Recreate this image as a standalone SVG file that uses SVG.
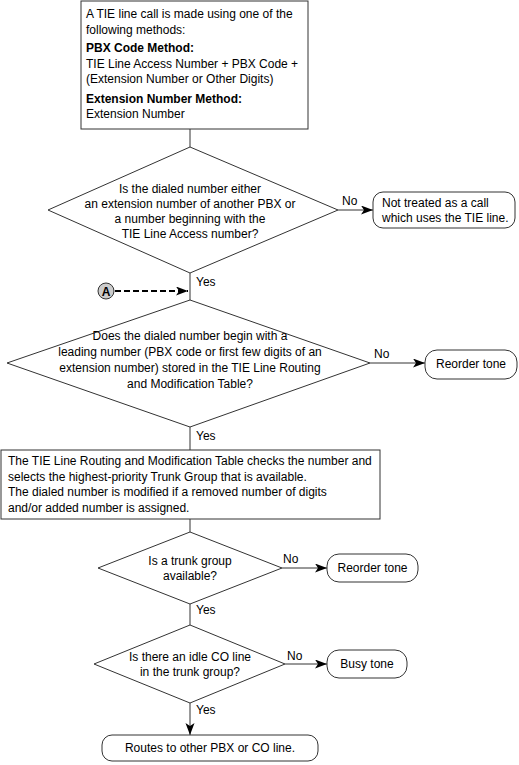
<svg xmlns="http://www.w3.org/2000/svg" width="519" height="765" viewBox="0 0 519 765">
<style>
text{font-family:"Liberation Sans",Arial,sans-serif;font-size:12px;fill:#000}
.c{text-anchor:middle}
.b{font-weight:bold}
.s{fill:#fff;stroke:#333;stroke-width:1}
.l{stroke:#333;stroke-width:1;fill:none}
</style>
<defs>
<marker id="ah" markerUnits="userSpaceOnUse" markerWidth="14" markerHeight="10" refX="12" refY="4.5" orient="auto">
<path d="M0,0 L12,4.5 L0,9 L3,4.5 Z" fill="#000"/>
</marker>
</defs>
<g id="connectors">
<line class="l" x1="190" y1="129" x2="190" y2="147"/>
<line class="l" x1="338" y1="210" x2="373" y2="210" marker-end="url(#ah)"/>
<line class="l" x1="190" y1="273" x2="190" y2="300"/>
<line x1="115" y1="291" x2="188" y2="291" stroke="#000" stroke-width="2" stroke-dasharray="6,3" marker-end="url(#ah)"/>
<line class="l" x1="370" y1="363" x2="425" y2="363" marker-end="url(#ah)"/>
<line class="l" x1="190" y1="427" x2="190" y2="450"/>
<line class="l" x1="190" y1="519" x2="190" y2="532"/>
<line class="l" x1="282" y1="568" x2="327" y2="568" marker-end="url(#ah)"/>
<line class="l" x1="190" y1="604" x2="190" y2="625"/>
<line class="l" x1="285" y1="664" x2="327" y2="664" marker-end="url(#ah)"/>
<line class="l" x1="190" y1="703" x2="190" y2="735" marker-end="url(#ah)"/>
<text x="342" y="205">No</text>
<text x="196" y="286">Yes</text>
<text x="374" y="358">No</text>
<text x="196" y="440">Yes</text>
<text x="283" y="563">No</text>
<text x="196" y="614">Yes</text>
<text x="287" y="660">No</text>
<text x="196" y="714">Yes</text>
</g>
<g id="start">
<rect class="s" x="81" y="1" width="227" height="128"/>
<text x="86" y="18">A TIE line call is made using one of the</text>
<text x="86" y="34">following methods:</text>
<text x="86" y="52" class="b">PBX Code Method:</text>
<text x="86" y="68">TIE Line Access Number + PBX Code +</text>
<text x="86" y="83">(Extension Number or Other Digits)</text>
<text x="86" y="103" class="b">Extension Number Method:</text>
<text x="86" y="118">Extension Number</text>
</g>
<g id="decision1">
<polygon class="s" points="190,147 338,210 190,273 48,210"/>
<text class="c" x="190" y="193">Is the dialed number either</text>
<text class="c" x="190" y="208">an extension number of another PBX or</text>
<text class="c" x="190" y="223">a number beginning with the</text>
<text class="c" x="190" y="238">TIE Line Access number?</text>
</g>
<g id="not-treated">
<rect class="s" x="373" y="192" width="142" height="36" rx="10"/>
<text x="382" y="207">Not treated as a call</text>
<text x="382" y="222">which uses the TIE line.</text>
</g>
<g id="connector-a">
<circle cx="106" cy="291" r="8" fill="#ccc" stroke="#333"/>
<text class="c b" x="106" y="295.5">A</text>
</g>
<g id="decision2">
<polygon class="s" points="190,300 370,363 190,427 7,363"/>
<text class="c" x="190" y="340">Does the dialed number begin with a</text>
<text class="c" x="190" y="356">leading number (PBX code or first few digits of an</text>
<text class="c" x="190" y="372">extension number) stored in the TIE Line Routing</text>
<text class="c" x="190" y="388">and Modification Table?</text>
</g>
<g id="reorder1">
<rect class="s" x="425" y="350" width="92" height="29" rx="12"/>
<text class="c" x="471" y="368">Reorder tone</text>
</g>
<g id="routing-table">
<rect class="s" x="1" y="450" width="379" height="69"/>
<text x="8" y="465">The TIE Line Routing and Modification Table checks the number and</text>
<text x="8" y="480.5">selects the highest-priority Trunk Group that is available.</text>
<text x="8" y="496">The dialed number is modified if a removed number of digits</text>
<text x="8" y="511.5">and/or added number is assigned.</text>
</g>
<g id="decision3">
<polygon class="s" points="190,532 282,568 190,604 98,568"/>
<text class="c" x="190" y="565">Is a trunk group</text>
<text class="c" x="190" y="580">available?</text>
</g>
<g id="reorder2">
<rect class="s" x="327" y="554" width="91" height="28" rx="12"/>
<text class="c" x="372.5" y="572">Reorder tone</text>
</g>
<g id="decision4">
<polygon class="s" points="190,625 285,664 190,703 94,664"/>
<text class="c" x="190" y="661">Is there an idle CO line</text>
<text class="c" x="190" y="676">in the trunk group?</text>
</g>
<g id="busy">
<rect class="s" x="327" y="650" width="80" height="28" rx="12"/>
<text class="c" x="367" y="668">Busy tone</text>
</g>
<g id="routes">
<rect class="s" x="102" y="735" width="216" height="26" rx="10"/>
<text class="c" x="210" y="752">Routes to other PBX or CO line.</text>
</g>
</svg>
